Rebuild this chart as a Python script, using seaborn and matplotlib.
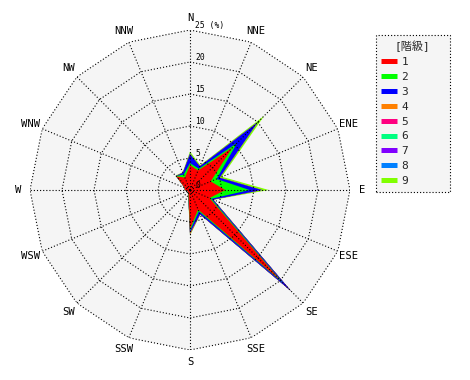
import numpy as np
import pandas as pd
import matplotlib
matplotlib.use("Agg")
import matplotlib.pyplot as plt
import seaborn as sns
from matplotlib.lines import Line2D
from matplotlib.transforms import offset_copy

# ---------------- data ----------------
directions = ["N", "NNE", "NE", "ENE", "E", "ESE", "SE", "SSE",
              "S", "SSW", "SW", "WSW", "W", "WNW", "NW", "NNW"]
classes = ["1", "2", "3", "4", "5", "6", "7", "8", "9"]
class_colors = ["#ff0000", "#00ff00", "#0000ff", "#ff8000", "#ff0080",
                "#00ff80", "#8000ff", "#0080ff", "#80ff00"]

# frequency (%) per class and direction (not cumulative)
c1 = [3.9, 3.3, 9.3, 3.5, 5.5, 3.3, 20.0, 3.3, 6.1, 0.6, 0.4, 0.4, 0.8, 0.9, 3.0, 2.1]
c2 = [0.3, 0.3, 1.1, 1.0, 3.8, 0.3, 0.6, 0.3, 0.3, 0.1, 0.0, 0.0, 0.0, 0.0, 0.1, 0.5]
c3 = [1.4, 0.4, 4.4, 0.5, 1.9, 0.3, 1.7, 0.5, 0.3, 0.0, 0.0, 0.0, 0.0, 0.0, 0.0, 0.3]
c4 = [0.0, 0.0, 0.0, 0.0, 0.0, 0.0, 0.0, 0.0, 0.2, 0.0, 0.0, 0.0, 0.0, 0.0, 0.0, 0.0]
c5 = [0.0, 0.0, 0.0, 0.0, 0.0, 0.0, 0.0, 0.0, 0.0, 0.0, 0.0, 0.0, 0.0, 0.0, 0.0, 0.0]
c6 = [0.0, 0.0, 0.1, 0.0, 0.0, 0.0, 0.0, 0.0, 0.0, 0.0, 0.0, 0.0, 0.0, 0.0, 0.0, 0.0]
c7 = [0.0, 0.0, 0.0, 0.0, 0.0, 0.0, 0.0, 0.0, 0.0, 0.0, 0.0, 0.0, 0.0, 0.0, 0.0, 0.0]
c8 = [0.1, 0.0, 0.1, 0.0, 0.0, 0.0, 0.0, 0.0, 0.0, 0.0, 0.0, 0.0, 0.0, 0.0, 0.0, 0.0]
c9 = [0.3, 0.2, 1.4, 0.4, 1.1, 0.1, 0.0, 0.1, 0.2, 0.1, 0.0, 0.0, 0.0, 0.0, 0.1, 0.1]

radial_ticks = [0, 5, 10, 15, 20, 25]
radial_labels = ["0", "5", "10", "15", "20", "25 (%)"]
legend_title = "[階級]"

# ---------------- style ----------------
sns.set_theme(style="white")
plt.rcParams["font.family"] = ["DejaVu Sans Mono", "Noto Sans CJK JP"]
palette = sns.color_palette(class_colors)

df = pd.DataFrame({"direction": directions, "1": c1, "2": c2, "3": c3, "4": c4,
                   "5": c5, "6": c6, "7": c7, "8": c8, "9": c9})
cum = df[classes].cumsum(axis=1)

W, H = 470, 380
fig = plt.figure(figsize=(W / 100, H / 100), dpi=100)
fig.patch.set_facecolor("white")
cx, cy, R = 190, 190, 160
ax = fig.add_axes([(cx - R) / W, (H - cy - R) / H, 2 * R / W, 2 * R / H],
                  projection="polar")
ax.set_theta_zero_location("N")
ax.set_theta_direction(-1)
ax.set_ylim(0, 25)
ax.grid(False)
ax.spines["polar"].set_visible(False)
ax.set_xticks([])
ax.set_yticks([])
ax.patch.set_facecolor("none")

theta = np.deg2rad(np.arange(len(directions)) * 22.5)
theta_c = np.append(theta, theta[0])
rmax = radial_ticks[-1]

# background polygon
ax.fill(theta_c, [rmax] * len(theta_c), color="#f5f5f5", lw=0, zorder=0)

# stacked (cumulative) class polygons, outermost first
for k, col in reversed(list(zip(classes, palette))):
    vals = cum[k].values
    ax.fill(theta_c, np.append(vals, vals[0]), color=col, lw=0, zorder=1)

dot = (0, (1, 1.8))
for r in radial_ticks[1:]:
    ax.plot(theta_c, [r] * len(theta_c), color="black", lw=0.8, ls=dot, zorder=3)
for t in theta:
    ax.plot([t, t], [0, rmax], color="black", lw=0.8, ls=dot, zorder=3)

# direction labels
for t, name in zip(theta, directions):
    ax.text(t, 26.9, name, ha="center", va="center", fontsize=7.6,
            color="black", clip_on=False)

# radial labels
tr = offset_copy(ax.transData, fig=fig, x=5, y=0, units="dots")
for r, lab in zip(radial_ticks, radial_labels):
    ax.text(0, r, lab, transform=tr, ha="left", va="bottom", fontsize=5.8,
            color="black", zorder=4)

# legend
handles = [Line2D([0], [0], color=c, lw=3.6, solid_capstyle="butt") for c in palette]
lx0, ly0, lx1, ly1 = 375.7, 35, 450, 195
leg = fig.legend(handles, classes, title=legend_title, loc="upper left",
                 bbox_to_anchor=(lx0 / W, 1 - ly1 / H, (lx1 - lx0) / W, (ly1 - ly0) / H),
                 mode="expand", fontsize=8, title_fontsize=8, fancybox=False,
                 borderpad=0.5, handlelength=1.45, handletextpad=0.36,
                 labelspacing=0.44, borderaxespad=0, framealpha=1)
frame = leg.get_frame()
frame.set_facecolor("#f5f5f5")
frame.set_edgecolor("black")
frame.set_linestyle(dot)
frame.set_linewidth(0.8)

fig.savefig("out.png", dpi=100)
